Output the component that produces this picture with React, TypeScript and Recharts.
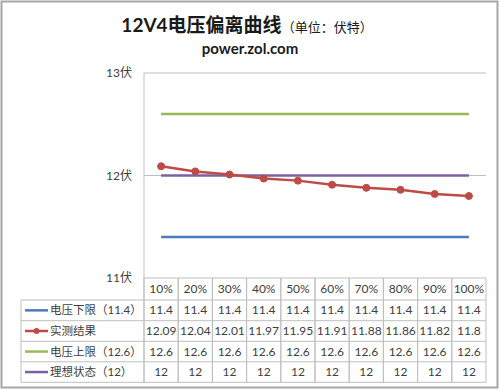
import React from 'react';
import { LineChart, Line, XAxis, YAxis, CartesianGrid, Customized } from 'recharts';

const categories = ['10%', '20%', '30%', '40%', '50%', '60%', '70%', '80%', '90%', '100%'];
const lowerLimit = [11.4, 11.4, 11.4, 11.4, 11.4, 11.4, 11.4, 11.4, 11.4, 11.4];
const measured = [12.09, 12.04, 12.01, 11.97, 11.95, 11.91, 11.88, 11.86, 11.82, 11.8];
const upperLimit = [12.6, 12.6, 12.6, 12.6, 12.6, 12.6, 12.6, 12.6, 12.6, 12.6];
const ideal = [12, 12, 12, 12, 12, 12, 12, 12, 12, 12];
const yTicks = [11, 12, 13];

const seriesDefs = [
  { key: 'lower', name: '电压下限（11.4）', color: '#4A7EBB', values: lowerLimit, dot: false },
  { key: 'measured', name: '实测结果', color: '#BE4B48', values: measured, dot: true },
  { key: 'upper', name: '电压上限（12.6）', color: '#98B954', values: upperLimit, dot: false },
  { key: 'ideal', name: '理想状态（12）', color: '#7D60A0', values: ideal, dot: false },
];

const data = categories.map((c, i) => ({
  cat: c,
  lower: lowerLimit[i],
  measured: measured[i],
  upper: upperLimit[i],
  ideal: ideal[i],
}));

const FONT = "Lato, 'Noto Sans CJK SC', sans-serif";
const PLOT_LEFT = 144;
const PLOT_RIGHT = 486;
const PLOT_TOP = 73;
const PLOT_BOTTOM = 278;
const BAND = (PLOT_RIGHT - PLOT_LEFT) / categories.length;
const TABLE_LEFT = 21;
const ROW_LINES = [300, 320.7, 341.3, 361.8, 382.3];
const GRID = '#BFBFBF';
const TEXT = '#404040';

const TableColumnTick = (props: any) => {
  const { x, payload, index } = props;
  const i = payload && typeof payload.index === 'number' ? payload.index : index;
  const left = x - BAND / 2;
  const right = x + BAND / 2;
  return (
    <g>
      <line x1={left} y1={PLOT_BOTTOM} x2={left} y2={ROW_LINES[4]} stroke={GRID} strokeWidth={1} />
      <line x1={right} y1={PLOT_BOTTOM} x2={right} y2={ROW_LINES[4]} stroke={GRID} strokeWidth={1} />
      <text x={x} y={(PLOT_BOTTOM + ROW_LINES[0]) / 2 + 4} textAnchor="middle" fontSize={12} fill={TEXT} fontFamily={FONT}>
        {categories[i]}
      </text>
      {seriesDefs.map((s, r) => (
        <text
          key={s.key}
          x={x}
          y={(ROW_LINES[r] + ROW_LINES[r + 1]) / 2 + 4}
          textAnchor="middle"
          fontSize={12}
          fill={TEXT}
          fontFamily={FONT}
        >
          {String(s.values[i])}
        </text>
      ))}
    </g>
  );
};

const Decorations = () => (
  <g>
    <rect x={1.5} y={1.5} width={496} height={386} fill="none" stroke="#A6A6A6" strokeWidth={2} />
    <text x={247} y={32} textAnchor="middle" fontFamily={FONT} fill="#1A1A1A">
      <tspan fontSize={19} fontWeight="bold">12V4电压偏离曲线</tspan>
      <tspan fontSize={13}>（单位：伏特）</tspan>
    </text>
    <text x={250} y={54} textAnchor="middle" fontFamily={FONT} fontSize={15} fontWeight="bold" fill="#1A1A1A">
      power.zol.com
    </text>
    {ROW_LINES.map((y, k) => (
      <line key={k} x1={TABLE_LEFT} y1={y} x2={PLOT_RIGHT} y2={y} stroke={GRID} strokeWidth={1} />
    ))}
    <line x1={TABLE_LEFT} y1={ROW_LINES[0]} x2={TABLE_LEFT} y2={ROW_LINES[4]} stroke={GRID} strokeWidth={1} />
    <line x1={PLOT_LEFT} y1={PLOT_TOP} x2={PLOT_LEFT} y2={ROW_LINES[4]} stroke={GRID} strokeWidth={1} />
    {seriesDefs.map((s, r) => {
      const cy = (ROW_LINES[r] + ROW_LINES[r + 1]) / 2;
      return (
        <g key={s.key}>
          <line x1={25} y1={cy} x2={48} y2={cy} stroke={s.color} strokeWidth={2.5} />
          {s.dot && <circle cx={36.5} cy={cy} r={3} fill={s.color} />}
          <text x={50} y={cy + 4} fontSize={11.5} fill={TEXT} fontFamily={FONT}>
            {s.name}
          </text>
        </g>
      );
    })}
  </g>
);

export default function App() {
  return (
    <div style={{ position: 'absolute', left: 0, top: 0, width: 500, height: 390, background: '#fff' }}>
      <LineChart
        width={500}
        height={390}
        data={data}
        margin={{ top: PLOT_TOP, right: 500 - PLOT_RIGHT, bottom: 92, left: PLOT_LEFT - 40 }}
        style={{ fontFamily: FONT }}
      >
        <Customized component={Decorations} />
        <CartesianGrid horizontal vertical={false} stroke={GRID} strokeDasharray="" />
        <XAxis
          dataKey="cat"
          height={20}
          axisLine={false}
          tickLine={false}
          interval={0}
          padding={{ left: BAND / 2, right: BAND / 2 }}
          tick={<TableColumnTick />}
        />
        <YAxis
          width={40}
          domain={[11, 13]}
          ticks={yTicks}
          axisLine={false}
          tickLine={false}
          tickMargin={6}
          tickFormatter={(v: number) => `${v}伏`}
          tick={{ fontSize: 12, fill: TEXT, fontFamily: FONT }}
        />
        <Line dataKey="lower" stroke="#4A7EBB" strokeWidth={2.5} dot={false} isAnimationActive={false} />
        <Line dataKey="upper" stroke="#98B954" strokeWidth={2.5} dot={false} isAnimationActive={false} />
        <Line dataKey="ideal" stroke="#7D60A0" strokeWidth={2.5} dot={false} isAnimationActive={false} />
        <Line
          dataKey="measured"
          stroke="#BE4B48"
          strokeWidth={2.5}
          dot={{ r: 3.5, fill: '#BE4B48', stroke: '#BE4B48', strokeWidth: 1 }}
          isAnimationActive={false}
        />
      </LineChart>
    </div>
  );
}
